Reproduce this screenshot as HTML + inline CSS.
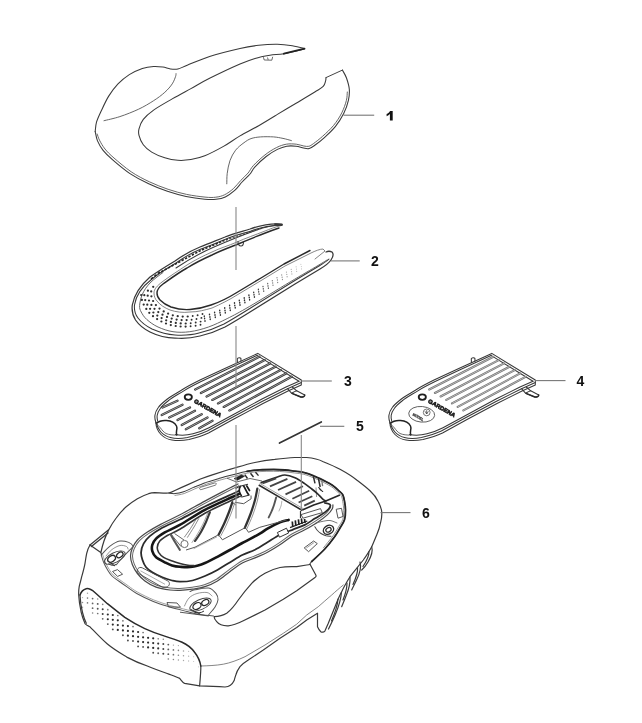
<!DOCTYPE html>
<html><head><meta charset="utf-8"><title>Parts diagram</title>
<style>
html,body{margin:0;padding:0;background:#fff;}
body{width:642px;height:723px;overflow:hidden;font-family:"Liberation Sans",sans-serif;}
svg{display:block;filter:grayscale(1);}
.ln path,.ln ellipse,.ln circle,.ln rect{fill:none;stroke:#383838;stroke-width:1.05;stroke-linecap:round;stroke-linejoin:round;}
.ln6 path{stroke:#3a3a3a;stroke-width:1.2;}
.ld path{fill:none;stroke:#777;stroke-width:1.1;}
.vl path{fill:none;stroke:#888;stroke-width:1.1;}
.lb text{font-family:"Liberation Sans",sans-serif;font-weight:bold;font-size:14px;fill:#111;text-anchor:middle;}
</style></head><body>
<svg width="642" height="723" viewBox="0 0 642 723">
<rect x="0" y="0" width="642" height="723" fill="#ffffff"/>
<g id="p1"><path d="M95.2,131.6 C95.4,130.0 95.5,125.6 96.5,122.2 C97.5,118.8 99.2,115.3 101.2,111.0 C103.2,106.7 105.9,100.6 108.7,96.1 C111.5,91.6 114.6,87.5 118.0,83.9 C121.4,80.3 125.3,77.2 129.3,74.6 C133.4,72.0 138.2,69.8 142.3,68.4 C146.4,67.1 150.2,66.7 153.6,66.5 C157.0,66.3 160.1,66.7 162.9,67.1 C165.7,67.5 167.9,68.7 170.4,69.0 C172.9,69.3 175.1,69.6 177.9,69.0 C180.7,68.4 181.9,67.3 187.2,65.2 C192.5,63.1 200.8,59.2 209.6,56.4 C218.4,53.6 231.8,50.4 240.0,48.5 C248.2,46.6 252.5,46.0 258.7,45.3 C264.9,44.6 271.8,44.2 277.4,44.3 C283.0,44.4 287.8,45.1 292.3,45.8 C296.8,46.5 302.5,48.0 304.5,48.5" fill="none" stroke="#3a3a3a" stroke-width="1.06" stroke-linecap="round" stroke-linejoin="round" /><path d="M304.5,49.0 C301.1,49.8 289.7,52.7 283.9,53.7 C278.1,54.7 274.7,54.4 269.9,55.2 C265.1,56.0 260.0,56.9 255.0,58.4 C250.0,59.9 247.6,60.7 240.0,64.0 C232.4,67.3 217.8,74.2 209.6,78.3 C201.4,82.4 197.1,85.2 190.9,88.6 C184.7,92.0 178.4,95.3 172.2,98.9 C166.0,102.5 158.4,106.7 153.6,110.1 C148.8,113.5 145.7,116.3 143.3,119.4 C140.9,122.5 139.7,126.2 139.0,128.8 C138.3,131.5 138.3,132.7 139.0,135.3 C139.7,138.0 141.2,141.9 143.3,144.7 C145.4,147.5 148.1,149.9 151.7,152.1 C155.3,154.3 160.4,156.4 164.8,157.8 C169.2,159.2 173.6,160.0 177.9,160.3 C182.2,160.6 186.4,160.3 190.9,159.6 C195.4,158.8 199.4,158.0 204.8,155.8 C210.2,153.6 217.6,149.7 223.5,146.4 C229.4,143.1 234.1,139.3 240.0,135.9 C245.9,132.5 252.5,129.3 258.7,125.7 C264.9,122.1 271.2,118.2 277.4,114.4 C283.6,110.7 289.9,106.9 296.1,103.2 C302.3,99.5 310.3,94.8 314.8,92.0 C319.3,89.2 321.4,88.3 323.2,86.4 C325.0,84.5 325.1,82.3 325.6,80.8 C326.1,79.3 325.9,78.1 326.0,77.6" fill="none" stroke="#3a3a3a" stroke-width="1.06" stroke-linecap="round" stroke-linejoin="round" /><path d="M326,77.6 L342.4,70.1" fill="none" stroke="#3a3a3a" stroke-width="0.95" stroke-linecap="round"/><path d="M342.4,70.1 C343.1,71.4 345.4,74.8 346.5,78.0 C347.6,81.2 349.0,85.5 349.3,89.2 C349.6,92.9 349.3,96.4 348.4,100.4 C347.5,104.5 345.9,109.1 343.7,113.5 C341.5,117.9 338.6,122.5 335.3,126.6 C332.0,130.7 327.5,134.7 324.1,137.8 C320.7,140.9 317.3,143.5 314.8,145.3 C312.3,147.1 311.1,148.0 309.2,148.5 C307.3,149.0 305.8,148.5 303.6,148.1 C301.4,147.7 298.9,146.5 296.1,146.2 C293.3,145.9 289.8,145.7 286.7,146.2 C283.6,146.7 280.8,147.7 277.4,149.4 C274.0,151.1 269.9,153.6 266.2,156.5 C262.5,159.4 257.8,163.8 255.0,166.8 C252.2,169.8 251.8,172.0 249.6,174.5 C247.4,177.0 244.6,179.3 242.1,182.0 C239.6,184.7 237.5,187.9 234.7,190.4 C231.9,192.9 228.4,195.4 225.3,196.9 C222.2,198.4 219.4,198.9 216.0,199.3 C212.6,199.7 209.8,199.7 204.8,199.2 C199.8,198.7 192.3,197.7 186.1,196.4 C179.9,195.1 173.6,193.4 167.4,191.3 C161.2,189.2 154.9,186.8 148.7,183.8 C142.5,180.9 136.1,177.6 130.0,173.6 C124.0,169.6 116.9,163.5 112.4,159.6 C107.9,155.7 105.6,153.4 103.1,150.3 C100.6,147.2 98.8,144.0 97.5,140.9 C96.2,137.8 95.6,133.2 95.2,131.6" fill="none" stroke="#3a3a3a" stroke-width="1.06" stroke-linecap="round" stroke-linejoin="round" /><path d="M347.3,92.0 C347.1,93.4 347.3,96.9 346.4,100.4 C345.5,103.9 343.9,108.6 341.8,112.8 C339.7,117.0 336.8,121.5 333.6,125.4 C330.4,129.3 326.0,133.2 322.7,136.2 C319.4,139.2 315.9,141.8 313.6,143.5 C311.3,145.2 310.4,145.9 308.8,146.3 C307.2,146.7 305.9,146.3 303.8,146.0 C301.7,145.7 299.2,144.5 296.3,144.2 C293.4,143.9 289.7,143.6 286.4,144.2 C283.1,144.8 280.2,145.7 276.6,147.5 C273.0,149.3 268.8,151.9 265.0,154.9 C261.2,157.9 256.4,162.3 253.6,165.3 C250.8,168.3 250.2,170.5 248.1,173.0 C245.9,175.5 243.2,177.9 240.7,180.5 C238.2,183.1 236.0,186.3 233.3,188.7 C230.6,191.1 227.4,193.4 224.5,194.8 C221.6,196.2 219.1,196.8 215.8,197.2 C212.6,197.6 209.9,197.6 205.0,197.1 C200.1,196.6 192.8,195.7 186.6,194.4 C180.4,193.1 174.3,191.4 168.1,189.3 C161.9,187.2 155.8,184.8 149.6,181.9 C143.4,179.0 137.1,175.8 131.2,171.8 C125.3,167.8 118.4,161.8 114.0,158.0 C109.6,154.2 107.4,152.0 105.0,149.0 C102.6,146.0 100.8,142.7 99.5,140.2 C98.2,137.7 97.6,135.0 97.2,134.0" fill="none" stroke="#555" stroke-width="0.90" stroke-linecap="round" stroke-linejoin="round" /><path d="M104.0,120.7 C106.7,120.0 114.1,118.5 119.9,116.6 C125.7,114.7 133.0,111.8 138.6,109.2 C144.2,106.6 149.2,103.5 153.6,100.7 C158.0,97.9 161.7,95.1 164.8,92.3 C167.9,89.5 170.4,86.6 172.2,83.9 C174.0,81.2 175.0,78.1 175.6,76.4 C176.2,74.7 175.9,74.1 176.0,73.6" fill="none" stroke="#555" stroke-width="0.90" stroke-linecap="round" stroke-linejoin="round" /><path d="M226.8,183.8 C226.9,182.1 226.7,177.5 227.2,173.6 C227.7,169.7 228.6,164.4 230.0,160.5 C231.4,156.6 233.3,153.2 235.6,150.2 C237.9,147.2 241.4,144.6 244.0,142.7 C246.6,140.8 248.2,139.6 251.0,138.6 C253.8,137.6 256.8,137.2 260.6,136.9 C264.4,136.6 269.9,136.7 273.6,136.9 C277.3,137.2 280.0,137.8 283.0,138.4 C286.0,139.0 290.0,140.2 291.4,140.6" fill="none" stroke="#555" stroke-width="0.90" stroke-linecap="round" stroke-linejoin="round" /><path d="M263.4,57.2 L264.2,60 L271.8,60.2 L272.7,56.8 M267.5,57.5 L268.2,59.8" fill="none" stroke="#444" stroke-width="0.8"/><path d="M283.9,53.7 L304.5,48.7" fill="none" stroke="#222" stroke-width="1.9" stroke-linecap="round"/></g>
<g id="p2" class="ln"><path style="stroke-width:1.25" d="M282,224 C270,223 258,226 250,229 C240,232 232,234 225,237 C215,241 208,244 200,247 C190,251 182,256 175,261 C165,267 157,272 150,277 C142,284 134.5,293 132.3,305 C131.5,311 133,316 135.5,320 C139,325 144,329 150,332 C158,336 166,338 175,338 C184,339 192,338 200,336 C209,334 217,331 225,327 C234,322 242,317 250,312 L295,284 L320,269 C325,266 329,263 331,260 C333,257 334,254 332,252 C330,251 328,251 326,252"/><path d="M281,225.5 C270,225 259,228 251,231 C241,234 233,236 226,239 C216,243 209,246 201,249 C191,253 183,258 176,263 C166,269 158,274 152,279 C143,286 136,294 134.5,305 C134,310 135,314 138,318 C141,322 146,326 152,329 C159,332 167,334.5 175,335 C184,335.5 192,335 199,333 C208,331 216,328 224,324 C233,319 241,314 249,309 L294,281 L319,266 C324,263 327,261 329,259"/><path style="stroke-width:.8;stroke:#666" d="M281.5,225.5 C275,227 270,229 265,231 C255,235 246,238 237,242 C228,246 220,248 212,252 C203,256 195,260 187,265 C178,271 170,276 162,282 C157,286 154,289 154,293 C154,296 155,299 157,301 C160,305 165,308 170,310 C176,312 183,313 190,312 C198,312 205,310 212,308 C221,304 229,300 237,295 L262,280 L285,266 L311,253 C315,251 320,249 323,249 L325,251 L315,259"/><path style="stroke-width:1.45;stroke:#2a2a2a" d="M279,228 C273,230 269,231.5 264,233.5 C254,237.5 246,240.5 237,244.5 C228,248 220,251 212,255 C203,259 195,263 187,268 C178,273 170,279 163,284 C159,287 157,290 157,293 C157,296 158,298 160,300 C163,303 167,305.5 171,307 C177,309 183,310 190,309.5 C198,309 204,307.5 211,305 C220,302 228,298 236,293 L261,278 L284,264 L310,250.5"/><path d="M282,224.5 C272,225 262,228 254,231 C240,236 228,241 214,247 C200,253 188,260 176,268"/><path d="M275,224.2 L282,225" style="stroke-width:1.8"/><path d="M238,241.5 C238,244 239,246 241,246 C243,246 243.5,244 243.5,242"/></g>
<path d="M163.0,272.5 C160.8,274.2 153.4,279.4 150.0,283.0 C146.6,286.6 144.2,290.2 142.5,294.0 C140.8,297.8 139.8,302.5 139.6,305.5 C139.4,308.5 140.0,309.7 141.2,312.0 C142.4,314.3 144.0,317.0 146.8,319.5 C149.6,322.0 153.6,325.0 158.0,327.0 C162.4,329.0 167.7,330.9 173.0,331.7 C178.3,332.5 183.9,332.5 189.8,331.7 C195.7,330.9 202.3,329.2 208.5,327.0 C214.7,324.8 220.3,322.0 227.2,318.6 C234.0,315.2 239.1,312.5 249.6,306.4 C260.1,300.3 278.6,288.8 290.0,282.0 C301.4,275.2 311.8,269.2 318.0,265.5 C324.2,261.8 325.5,260.9 327.0,260.0" fill="none" stroke="#555" stroke-width="0.90" stroke-linecap="round" stroke-linejoin="round" />
<g id="p2dots" fill="#2e2e2e"><circle cx="153.2" cy="286.8" r="1.12"/><circle cx="151.2" cy="291.4" r="1.12"/><circle cx="151.4" cy="296.3" r="1.12"/><circle cx="153.1" cy="301.0" r="1.12"/><circle cx="155.9" cy="305.1" r="1.12"/><circle cx="159.5" cy="308.6" r="1.12"/><circle cx="163.7" cy="311.4" r="1.12"/><circle cx="168.1" cy="313.6" r="1.12"/><circle cx="172.8" cy="315.3" r="1.12"/><circle cx="177.7" cy="316.2" r="1.12"/><circle cx="182.7" cy="316.6" r="1.12"/><circle cx="187.7" cy="316.5" r="1.12"/><circle cx="192.7" cy="316.0" r="0.95"/><circle cx="197.6" cy="315.2" r="0.95"/><circle cx="202.5" cy="314.0" r="0.95"/><circle cx="147.9" cy="290.7" r="1.12"/><circle cx="147.7" cy="295.7" r="1.12"/><circle cx="149.0" cy="300.5" r="1.12"/><circle cx="151.4" cy="304.9" r="1.12"/><circle cx="154.5" cy="308.8" r="1.12"/><circle cx="158.3" cy="312.1" r="1.12"/><circle cx="162.5" cy="314.7" r="1.12"/><circle cx="167.0" cy="316.9" r="1.12"/><circle cx="171.7" cy="318.6" r="1.12"/><circle cx="176.6" cy="319.6" r="1.12"/><circle cx="181.6" cy="320.1" r="1.12"/><circle cx="186.6" cy="320.1" r="1.12"/><circle cx="191.6" cy="319.7" r="0.95"/><circle cx="196.5" cy="319.0" r="0.95"/><circle cx="201.4" cy="317.9" r="0.95"/><circle cx="144.3" cy="295.2" r="1.12"/><circle cx="145.2" cy="300.1" r="1.12"/><circle cx="147.3" cy="304.7" r="1.12"/><circle cx="150.1" cy="308.8" r="1.12"/><circle cx="153.4" cy="312.5" r="1.12"/><circle cx="157.3" cy="315.6" r="1.12"/><circle cx="161.6" cy="318.1" r="1.12"/><circle cx="166.2" cy="320.3" r="1.12"/><circle cx="170.9" cy="321.9" r="1.12"/><circle cx="175.8" cy="322.9" r="1.12"/><circle cx="180.7" cy="323.4" r="1.12"/><circle cx="185.7" cy="323.5" r="1.12"/><circle cx="190.7" cy="323.2" r="0.95"/><circle cx="195.7" cy="322.5" r="0.95"/><circle cx="200.6" cy="321.6" r="0.95"/><circle cx="141.2" cy="295.0" r="1.12"/><circle cx="141.9" cy="299.9" r="1.12"/><circle cx="143.7" cy="304.6" r="1.12"/><circle cx="146.3" cy="308.9" r="1.12"/><circle cx="149.3" cy="312.8" r="1.12"/><circle cx="153.0" cy="316.2" r="1.12"/><circle cx="157.1" cy="319.1" r="1.12"/><circle cx="161.4" cy="321.5" r="1.12"/><circle cx="166.0" cy="323.5" r="1.12"/><circle cx="170.8" cy="325.1" r="1.12"/><circle cx="175.7" cy="326.0" r="1.12"/><circle cx="180.6" cy="326.5" r="1.12"/><circle cx="185.6" cy="326.6" r="1.12"/><circle cx="190.6" cy="326.3" r="0.95"/><circle cx="195.6" cy="325.7" r="0.95"/><circle cx="200.5" cy="324.8" r="0.95"/><ellipse cx="204.3" cy="316.3" rx="0.72" ry="0.98" opacity="1.00"/><ellipse cx="204.6" cy="318.6" rx="0.72" ry="0.98" opacity="1.00"/><ellipse cx="205.0" cy="320.9" rx="0.72" ry="0.98" opacity="1.00"/><ellipse cx="209.5" cy="314.6" rx="0.72" ry="0.98" opacity="1.00"/><ellipse cx="209.9" cy="316.9" rx="0.72" ry="0.98" opacity="1.00"/><ellipse cx="210.2" cy="319.2" rx="0.72" ry="0.98" opacity="1.00"/><ellipse cx="214.6" cy="312.6" rx="0.72" ry="0.98" opacity="1.00"/><ellipse cx="215.0" cy="314.9" rx="0.72" ry="0.98" opacity="1.00"/><ellipse cx="215.3" cy="317.2" rx="0.72" ry="0.98" opacity="1.00"/><ellipse cx="219.7" cy="310.4" rx="0.72" ry="0.98" opacity="1.00"/><ellipse cx="220.0" cy="312.7" rx="0.72" ry="0.98" opacity="1.00"/><ellipse cx="220.4" cy="315.0" rx="0.72" ry="0.98" opacity="1.00"/><ellipse cx="224.7" cy="308.1" rx="0.72" ry="0.98" opacity="1.00"/><ellipse cx="225.0" cy="310.4" rx="0.72" ry="0.98" opacity="1.00"/><ellipse cx="225.3" cy="312.7" rx="0.72" ry="0.98" opacity="1.00"/><ellipse cx="229.6" cy="305.6" rx="0.72" ry="0.98" opacity="1.00"/><ellipse cx="229.9" cy="307.9" rx="0.72" ry="0.98" opacity="1.00"/><ellipse cx="230.3" cy="310.2" rx="0.72" ry="0.98" opacity="1.00"/><ellipse cx="234.5" cy="303.1" rx="0.72" ry="0.98" opacity="1.00"/><ellipse cx="234.8" cy="305.4" rx="0.72" ry="0.98" opacity="1.00"/><ellipse cx="235.2" cy="307.7" rx="0.72" ry="0.98" opacity="1.00"/><ellipse cx="239.3" cy="300.5" rx="0.72" ry="0.98" opacity="1.00"/><ellipse cx="239.7" cy="302.8" rx="0.72" ry="0.98" opacity="1.00"/><ellipse cx="240.0" cy="305.1" rx="0.72" ry="0.98" opacity="1.00"/><ellipse cx="244.2" cy="297.9" rx="0.72" ry="0.98" opacity="1.00"/><ellipse cx="244.5" cy="300.2" rx="0.72" ry="0.98" opacity="1.00"/><ellipse cx="244.9" cy="302.5" rx="0.72" ry="0.98" opacity="1.00"/><ellipse cx="248.9" cy="295.2" rx="0.72" ry="0.98" opacity="1.00"/><ellipse cx="249.3" cy="297.5" rx="0.72" ry="0.98" opacity="1.00"/><ellipse cx="249.6" cy="299.8" rx="0.72" ry="0.98" opacity="1.00"/><ellipse cx="253.7" cy="292.4" rx="0.70" ry="0.95" opacity="0.95"/><ellipse cx="254.0" cy="294.7" rx="0.70" ry="0.95" opacity="0.95"/><ellipse cx="254.4" cy="297.0" rx="0.70" ry="0.95" opacity="0.95"/><ellipse cx="258.4" cy="289.5" rx="0.67" ry="0.91" opacity="0.89"/><ellipse cx="258.7" cy="291.8" rx="0.67" ry="0.91" opacity="0.89"/><ellipse cx="259.1" cy="294.1" rx="0.67" ry="0.91" opacity="0.89"/><ellipse cx="263.0" cy="286.5" rx="0.65" ry="0.87" opacity="0.83"/><ellipse cx="263.3" cy="288.8" rx="0.65" ry="0.87" opacity="0.83"/><ellipse cx="263.7" cy="291.1" rx="0.65" ry="0.87" opacity="0.83"/><ellipse cx="267.7" cy="283.6" rx="0.62" ry="0.84" opacity="0.77"/><ellipse cx="268.0" cy="285.9" rx="0.62" ry="0.84" opacity="0.77"/><ellipse cx="268.4" cy="288.2" rx="0.62" ry="0.84" opacity="0.77"/><ellipse cx="272.3" cy="280.7" rx="0.59" ry="0.80" opacity="0.72"/><ellipse cx="272.7" cy="283.0" rx="0.59" ry="0.80" opacity="0.72"/><ellipse cx="273.0" cy="285.3" rx="0.59" ry="0.80" opacity="0.72"/><ellipse cx="277.0" cy="277.8" rx="0.57" ry="0.77" opacity="0.66"/><ellipse cx="277.4" cy="280.1" rx="0.57" ry="0.77" opacity="0.66"/><ellipse cx="277.7" cy="282.4" rx="0.57" ry="0.77" opacity="0.66"/><ellipse cx="281.7" cy="275.0" rx="0.54" ry="0.73" opacity="0.60"/><ellipse cx="282.1" cy="277.3" rx="0.54" ry="0.73" opacity="0.60"/><ellipse cx="282.4" cy="279.6" rx="0.54" ry="0.73" opacity="0.60"/><ellipse cx="286.4" cy="272.1" rx="0.51" ry="0.69" opacity="0.54"/><ellipse cx="286.8" cy="274.4" rx="0.51" ry="0.69" opacity="0.54"/><ellipse cx="287.1" cy="276.7" rx="0.51" ry="0.69" opacity="0.54"/><ellipse cx="291.2" cy="269.4" rx="0.48" ry="0.66" opacity="0.48"/><ellipse cx="291.6" cy="271.7" rx="0.48" ry="0.66" opacity="0.48"/><ellipse cx="291.9" cy="274.0" rx="0.48" ry="0.66" opacity="0.48"/><ellipse cx="296.1" cy="266.8" rx="0.46" ry="0.62" opacity="0.42"/><ellipse cx="296.4" cy="269.1" rx="0.46" ry="0.62" opacity="0.42"/><ellipse cx="296.7" cy="271.4" rx="0.46" ry="0.62" opacity="0.42"/><ellipse cx="300.9" cy="264.3" rx="0.43" ry="0.58" opacity="0.36"/><ellipse cx="301.3" cy="266.6" rx="0.43" ry="0.58" opacity="0.36"/><ellipse cx="301.6" cy="268.9" rx="0.43" ry="0.58" opacity="0.36"/></g>
<g id="p2ticks" stroke="#222" stroke-width="1.6" fill="none" stroke-linecap="butt"><path d="M151.0,279.2 l2.1,-1.71" opacity="1.00"/><path d="M154.4,276.4 l2.1,-1.71" opacity="1.00"/><path d="M157.8,273.7 l2.1,-1.71" opacity="1.00"/><path d="M161.2,271.8 l2.1,-1.14" opacity="1.00"/><path d="M164.6,269.9 l2.1,-1.14" opacity="1.00"/><path d="M168.0,268.1 l2.1,-1.14" opacity="1.00"/><path d="M171.4,266.2 l2.1,-1.14" opacity="1.00"/><path d="M174.8,264.4 l2.1,-1.14" opacity="1.00"/><path d="M178.2,262.6 l2.1,-1.13" opacity="1.00"/><path d="M181.6,260.7 l2.1,-1.13" opacity="1.00"/><path d="M185.0,258.9 l2.1,-1.13" opacity="1.00"/><path d="M188.4,257.1 l2.1,-1.13" opacity="1.00"/><path d="M191.8,255.2 l2.1,-1.13" opacity="1.00"/><path d="M195.2,253.4 l2.1,-1.13" opacity="1.00"/><path d="M198.6,251.6 l2.1,-1.13" opacity="1.00"/><path d="M202.0,250.0 l2.1,-0.89" opacity="1.00"/><path d="M205.4,248.5 l2.1,-0.89" opacity="1.00"/><path d="M208.8,247.1 l2.1,-0.89" opacity="1.00"/><path d="M212.2,245.6 l2.1,-0.89" opacity="1.00"/><path d="M215.6,244.2 l2.1,-0.89" opacity="0.99"/><path d="M219.0,242.7 l2.1,-0.89" opacity="0.93"/><path d="M222.4,241.3 l2.1,-0.89" opacity="0.88"/><path d="M225.8,239.9 l2.1,-0.69" opacity="0.82"/><path d="M229.2,238.8 l2.1,-0.69" opacity="0.76"/><path d="M232.6,237.7 l2.1,-0.69" opacity="0.71"/><path d="M236.0,236.6 l2.1,-0.69" opacity="0.65"/><path d="M239.4,235.5 l2.1,-0.69" opacity="0.59"/><path d="M242.8,234.4 l2.1,-0.69" opacity="0.54"/><path d="M246.2,233.2 l2.1,-0.69" opacity="0.48"/><path d="M249.6,232.1 l2.1,-0.69" opacity="0.42"/><path d="M253.0,231.1 l2.1,-0.65" opacity="0.37"/><path d="M256.4,230.0 l2.1,-0.65" opacity="0.31"/><path d="M259.8,229.0 l2.1,-0.65" opacity="0.25"/></g>
<g transform="translate(0,0)"><g class="ln"><path d="M257.8,353.4 L224.8,368.4 L200,380 C194,383 188,386 183.3,389 C177,393 171,396 166.7,399.5 C163,402.5 160,405 158.3,407.5 C156.5,410 155.3,412.5 155,415 C154.6,417.5 155,420 155.8,422 C157,426 158.5,429 160.5,431.5 C163,434.5 166.5,436.5 170.5,437.5 C176,439 182,438.5 187.4,437.5 C194,436 201,434 207.3,431 L232,417.5 L262,401.5 L287,389 L301.3,382.6 L301.3,380 Z"/><path d="M155.8,422 C156,427 158,431.5 161,434.5 C164,437.5 168,439.5 172,440 C178,441 184,440.5 189,439.5 C195,438 202,436 208.5,433 L233,419.5 L263,403.5 L288,391 L301.3,385 L301.3,382.6"/><path d="M257,355.4 L225.5,370 L200.6,381.8 C194.5,384.8 189,387.6 184.2,390.6 C178,394.5 172,397.6 168,401 C164.5,403.8 162,406 160.3,408.5 C158.6,410.8 157.5,413 157.2,415.3 C156.9,417.5 157.2,419.5 157.8,421.3"/><path d="M257,355.4 L299,381.3"/><path d="M175.5,434.6 C181,435.6 187,435.4 193,433.8 C199,432.3 204,430.4 209,427.8 L233,414.8 L262,399 L286,387 L299,381.3"/><path d="M287.5,388.7 L291.7,393.3 L300.8,397 C303,397.5 305,396 304.7,395 L296.7,390.8 L292.3,387"/><path d="M291.7,393.3 C293,392.5 294.5,391.5 296.7,390.8"/><path d="M237.4,362.6 L237.3,358.8 C237.8,357.6 240.2,357.4 240.9,358.4 L241,361"/></g><path d="M292.5,393.6 L300.8,397 C303,397.5 305,396 304.7,395" fill="none" stroke="#2a2a2a" stroke-width="1.5" stroke-linecap="round"/><path d="M156.5,423.4 C158.5,421.5 162.5,420.3 166.5,420.6 C171,421 175,423.2 176.5,426 C177.3,427.6 177,429 176.6,430.5 C176.3,432 176.3,433.5 176.8,435" fill="none" stroke="#222" stroke-width="1.5" stroke-linecap="round"/><path d="M156.5,423.4 C157.5,425 159,426.5 160.5,428 C162,430 163.5,432 166,433.5 C169,434.8 173,435.2 176.8,435" fill="none" stroke="#444" stroke-width="0.8"/><path d="M195.2,389.5 L259.3,356.8" stroke="#303030" stroke-width="2.3" stroke-linecap="round" fill="none"/><path d="M195.2,389.5 L259.3,356.8" stroke="#fff" stroke-width="0.6" stroke-linecap="round" fill="none" opacity="0.85"/><path d="M200.9,393.0 L264.7,360.1" stroke="#303030" stroke-width="2.3" stroke-linecap="round" fill="none"/><path d="M200.9,393.0 L264.7,360.1" stroke="#fff" stroke-width="0.6" stroke-linecap="round" fill="none" opacity="0.85"/><path d="M206.6,396.5 L270.0,363.4" stroke="#303030" stroke-width="2.3" stroke-linecap="round" fill="none"/><path d="M206.6,396.5 L270.0,363.4" stroke="#fff" stroke-width="0.6" stroke-linecap="round" fill="none" opacity="0.85"/><path d="M212.3,399.9 L275.4,366.8" stroke="#303030" stroke-width="2.3" stroke-linecap="round" fill="none"/><path d="M212.3,399.9 L275.4,366.8" stroke="#fff" stroke-width="0.6" stroke-linecap="round" fill="none" opacity="0.85"/><path d="M218.0,403.4 L280.7,370.1" stroke="#303030" stroke-width="2.3" stroke-linecap="round" fill="none"/><path d="M218.0,403.4 L280.7,370.1" stroke="#fff" stroke-width="0.6" stroke-linecap="round" fill="none" opacity="0.85"/><path d="M223.7,406.9 L286.1,373.4" stroke="#303030" stroke-width="2.3" stroke-linecap="round" fill="none"/><path d="M223.7,406.9 L286.1,373.4" stroke="#fff" stroke-width="0.6" stroke-linecap="round" fill="none" opacity="0.85"/><path d="M229.4,410.4 L291.5,376.8" stroke="#303030" stroke-width="2.3" stroke-linecap="round" fill="none"/><path d="M229.4,410.4 L291.5,376.8" stroke="#fff" stroke-width="0.6" stroke-linecap="round" fill="none" opacity="0.85"/><path d="M162.5,407.5 L177.5,400.8" stroke="#303030" stroke-width="2.3" stroke-linecap="round" fill="none"/><path d="M162.5,407.5 L177.5,400.8" stroke="#fff" stroke-width="0.6" stroke-linecap="round" fill="none" opacity="0.85"/><path d="M161.7,415.0 L182.5,404.7" stroke="#303030" stroke-width="2.3" stroke-linecap="round" fill="none"/><path d="M161.7,415.0 L182.5,404.7" stroke="#fff" stroke-width="0.6" stroke-linecap="round" fill="none" opacity="0.85"/><path d="M169.2,417.5 L190.0,407.5" stroke="#303030" stroke-width="2.3" stroke-linecap="round" fill="none"/><path d="M169.2,417.5 L190.0,407.5" stroke="#fff" stroke-width="0.6" stroke-linecap="round" fill="none" opacity="0.85"/><path d="M177.5,420.0 L195.0,410.8" stroke="#303030" stroke-width="2.3" stroke-linecap="round" fill="none"/><path d="M177.5,420.0 L195.0,410.8" stroke="#fff" stroke-width="0.6" stroke-linecap="round" fill="none" opacity="0.85"/><path d="M181.7,425.0 L201.7,414.2" stroke="#303030" stroke-width="2.3" stroke-linecap="round" fill="none"/><path d="M181.7,425.0 L201.7,414.2" stroke="#fff" stroke-width="0.6" stroke-linecap="round" fill="none" opacity="0.85"/><path d="M185.8,429.2 L207.5,417.5" stroke="#303030" stroke-width="2.3" stroke-linecap="round" fill="none"/><path d="M185.8,429.2 L207.5,417.5" stroke="#fff" stroke-width="0.6" stroke-linecap="round" fill="none" opacity="0.85"/><path d="M199.2,428.3 L212.5,420.8" stroke="#303030" stroke-width="2.3" stroke-linecap="round" fill="none"/><path d="M199.2,428.3 L212.5,420.8" stroke="#fff" stroke-width="0.6" stroke-linecap="round" fill="none" opacity="0.85"/><ellipse cx="188.3" cy="397.1" rx="3.6" ry="2.7" fill="none" stroke="#1e1e1e" stroke-width="1.8"/><text transform="translate(193.6,402.2) rotate(30)" font-family="Liberation Sans, sans-serif" font-weight="bold" font-size="5.6" fill="#1e1e1e" stroke="#1e1e1e" stroke-width="0.6" textLength="30.5" lengthAdjust="spacingAndGlyphs">GARDENA</text></g>
<g transform="translate(234,0)"><g class="ln"><path d="M257.8,353.4 L224.8,368.4 L200,380 C194,383 188,386 183.3,389 C177,393 171,396 166.7,399.5 C163,402.5 160,405 158.3,407.5 C156.5,410 155.3,412.5 155,415 C154.6,417.5 155,420 155.8,422 C157,426 158.5,429 160.5,431.5 C163,434.5 166.5,436.5 170.5,437.5 C176,439 182,438.5 187.4,437.5 C194,436 201,434 207.3,431 L232,417.5 L262,401.5 L287,389 L301.3,382.6 L301.3,380 Z"/><path d="M155.8,422 C156,427 158,431.5 161,434.5 C164,437.5 168,439.5 172,440 C178,441 184,440.5 189,439.5 C195,438 202,436 208.5,433 L233,419.5 L263,403.5 L288,391 L301.3,385 L301.3,382.6"/><path d="M257,355.4 L225.5,370 L200.6,381.8 C194.5,384.8 189,387.6 184.2,390.6 C178,394.5 172,397.6 168,401 C164.5,403.8 162,406 160.3,408.5 C158.6,410.8 157.5,413 157.2,415.3 C156.9,417.5 157.2,419.5 157.8,421.3"/><path d="M257,355.4 L299,381.3"/><path d="M175.5,434.6 C181,435.6 187,435.4 193,433.8 C199,432.3 204,430.4 209,427.8 L233,414.8 L262,399 L286,387 L299,381.3"/><path d="M287.5,388.7 L291.7,393.3 L300.8,397 C303,397.5 305,396 304.7,395 L296.7,390.8 L292.3,387"/><path d="M291.7,393.3 C293,392.5 294.5,391.5 296.7,390.8"/><path d="M237.4,362.6 L237.3,358.8 C237.8,357.6 240.2,357.4 240.9,358.4 L241,361"/></g><path d="M292.5,393.6 L300.8,397 C303,397.5 305,396 304.7,395" fill="none" stroke="#2a2a2a" stroke-width="1.5" stroke-linecap="round"/><path d="M156.5,423.4 C158.5,421.5 162.5,420.3 166.5,420.6 C171,421 175,423.2 176.5,426 C177.3,427.6 177,429 176.6,430.5 C176.3,432 176.3,433.5 176.8,435" fill="none" stroke="#222" stroke-width="1.5" stroke-linecap="round"/><path d="M156.5,423.4 C157.5,425 159,426.5 160.5,428 C162,430 163.5,432 166,433.5 C169,434.8 173,435.2 176.8,435" fill="none" stroke="#444" stroke-width="0.8"/><path d="M195.2,389.5 L259.3,356.8" stroke="#6e6e6e" stroke-width="2.1" stroke-linecap="round" fill="none"/><path d="M195.2,389.5 L259.3,356.8" stroke="#fff" stroke-width="0.6" stroke-linecap="round" fill="none" opacity="0.85"/><path d="M200.9,393.0 L264.7,360.1" stroke="#6e6e6e" stroke-width="2.1" stroke-linecap="round" fill="none"/><path d="M200.9,393.0 L264.7,360.1" stroke="#fff" stroke-width="0.6" stroke-linecap="round" fill="none" opacity="0.85"/><path d="M206.6,396.5 L270.0,363.4" stroke="#6e6e6e" stroke-width="2.1" stroke-linecap="round" fill="none"/><path d="M206.6,396.5 L270.0,363.4" stroke="#fff" stroke-width="0.6" stroke-linecap="round" fill="none" opacity="0.85"/><path d="M212.3,399.9 L275.4,366.8" stroke="#6e6e6e" stroke-width="2.1" stroke-linecap="round" fill="none"/><path d="M212.3,399.9 L275.4,366.8" stroke="#fff" stroke-width="0.6" stroke-linecap="round" fill="none" opacity="0.85"/><path d="M218.0,403.4 L280.7,370.1" stroke="#6e6e6e" stroke-width="2.1" stroke-linecap="round" fill="none"/><path d="M218.0,403.4 L280.7,370.1" stroke="#fff" stroke-width="0.6" stroke-linecap="round" fill="none" opacity="0.85"/><path d="M223.7,406.9 L286.1,373.4" stroke="#6e6e6e" stroke-width="2.1" stroke-linecap="round" fill="none"/><path d="M223.7,406.9 L286.1,373.4" stroke="#fff" stroke-width="0.6" stroke-linecap="round" fill="none" opacity="0.85"/><path d="M229.4,410.4 L291.5,376.8" stroke="#6e6e6e" stroke-width="2.1" stroke-linecap="round" fill="none"/><path d="M229.4,410.4 L291.5,376.8" stroke="#fff" stroke-width="0.6" stroke-linecap="round" fill="none" opacity="0.85"/><ellipse cx="188.3" cy="397.1" rx="3.6" ry="2.7" fill="none" stroke="#1e1e1e" stroke-width="1.8"/><text transform="translate(193.6,402.2) rotate(30)" font-family="Liberation Sans, sans-serif" font-weight="bold" font-size="5.6" fill="#1e1e1e" stroke="#1e1e1e" stroke-width="0.6" textLength="30.5" lengthAdjust="spacingAndGlyphs">GARDENA</text><ellipse cx="187.7" cy="414.3" rx="13" ry="7.8" transform="rotate(5 187.7 414.3)" fill="none" stroke="#555" stroke-width="0.9"/><text transform="translate(178.3,415.2) rotate(30)" font-family="Liberation Sans, sans-serif" font-weight="bold" font-size="3.8" fill="#444" stroke="#444" stroke-width="0.3" textLength="12" lengthAdjust="spacingAndGlyphs">MODEL</text><circle cx="192.7" cy="412.4" r="3.4" fill="none" stroke="#555" stroke-width="0.8"/><path d="M191,411.3 L192.7,414 L194.4,411.3 M192.7,410.2 L192.7,414" fill="none" stroke="#444" stroke-width="0.8"/></g>
<path d="M321.3,422 L279.5,443" stroke="#333" stroke-width="1.7" stroke-linecap="round" fill="none"/>
<g id="p6" class="ln ln6"><path d="M101,552 C102.5,545 105,537 108.7,529.9 C111,525.5 113.5,521.5 116.2,518 C119.5,513.5 122.5,510 126.2,506.8 C130,503.5 133.5,501 137.4,498.7 C141,496.6 144.5,495 148.6,493.7 C151,493 153,492.7 154.7,492.6 C160,492.8 164,493.2 168.7,493 C171,492.5 173,491.5 174.9,490.5 C179,488.6 183,486.8 187.4,484.9 L199.8,479.3 C204,477.7 208,476.3 212.3,474.9 L229.8,469.3 L236.2,467.5 C242,465.8 248,464 254.9,462.5 C261,461.2 268,460.1 274.8,459.4 C281,458.6 288,457.8 294.8,457.5 L306.7,457.5 C313,458 319,459.5 323.3,461.7 C329,464 335,466.5 340,469.2 C346,472.5 352,476 356.7,480 C362,484 366,487 370,490.8 C373.5,494 376.5,498 378.3,501.7 C380,505 381.5,508.5 381.7,511.7 C382,515 381.6,518.5 380.8,521.7 C380,526 378.5,531 376.7,535 C375,539 373.5,543 371.7,546.7 C369.5,551 366.5,555.5 363.3,560 L350,576.7 C347,581.5 344,586.5 341.7,591.7 C339,596.5 337,601.5 335,606.7 L328.3,623.3 L325,630.8 C324,632.2 322,632.6 320.8,631.7 C319.5,630.5 318.3,628.5 317.5,626.7 L317.5,613.3"/><path d="M317.5,613.3 L306.7,620 L296.7,627.5 L280,638.3 L263.3,650 L248.3,660 C245,662 242,664.5 240,666.7 C238,669.5 236.5,672.5 235.8,675 C235,677.5 234.5,679 234.2,680.5 C232,685 229,686.8 225,687 L219.5,686.7 L199.6,685.9 L184.6,683.4 C182.5,682.5 181.5,680.5 179.7,678.4 C176,676.5 171,675 167.2,673.5 C160,671 153,668.5 147.3,666 C140,663.5 133,660.5 127.3,657.4 C121,653.5 114,649.5 107.4,644 C102,639.5 96,633 90,626.8 C89.5,626.6 89,626.4 88.7,626.1 C87,625.5 86,624.7 85,623.6 C83.5,620 82,616 81.2,612.4 C80,607 79,601 78.7,595 C78.6,592 78.7,589.5 79.2,586.7 C80,583 81,580 81.7,576.7 C83,572 84.3,567.5 85,563.3 C85.6,560 86,556.5 86.7,553.3 C87.5,550 88.5,547.5 90,545"/><path d="M90,545 L108.3,530"/><path d="M91.4,546.6 L108,533" style="stroke-width:1.3"/><path d="M90,545 L100.8,552.5 L101.7,555"/><path d="M343.3,585 C339,588.5 335,592 331.7,595 C327,599 322.5,603 318.3,606.7 L306.7,615 L296.7,624.2 L283.3,633.3 L265,645 L245,656.7 C238,660 230,663 223.3,664.2 C216,665.5 208,665.8 200.8,666" style="stroke:#666;stroke-width:.8"/><path d="M200.8,666 C201,670 200.5,676 199.6,685.9"/><path d="M80,595 C81,592 83,589.5 86.2,588.7 C89,588.2 92,590 94.9,592.5 L107.4,603.7 L124.8,617.4 C131,621.5 138,625.5 144.8,628.6 C151,631.5 158,634 164.7,636.1 C171,638 177,640 182.1,642.3 C187,644.5 191.5,648 194.6,652.3 C197.5,656 200,661 200.8,666" style="stroke-width:1.5;stroke:#2a2a2a"/><path d="M80,595 C80.3,601 81,607 82.5,612.5 C83.5,616.5 84.8,620.5 86.3,623.3"/><path d="M214.2,616.7 C219,616.5 223,615.5 226.7,613.3 C231,610 235,605 238.3,600 C242.5,594 247,588.5 251.7,583.3 C256,579 260,576 265,573.3 C270,570.5 275,568.5 280,567.5 C285,566.5 291,566.5 296.7,566.7 L306.7,565 C308.5,564.8 309.5,564.5 310,564.2 L315.8,575 C316.3,576 316,577 315,577.5 L296.7,590.8 L283.3,599.2 L265,610 L243.3,620.8 C238,623.5 233,625.5 228.3,625.8 C223,626 219,624.5 216.7,621.7 C215,620 214,618.5 214.2,616.7 Z"/><path d="M371.7,546.7 C373,551 371,557 368,562 C366,565.5 363.5,568.5 361.7,570"/><path d="M369,551.5 C369,556 366,562 363,566.5"/><path d="M360,562 C361.5,567 359.5,574 356.5,580 C354.5,584.5 352.5,588 351.7,590"/><path d="M357.5,567.5 C358,572 355.5,579 353,584.5"/><path d="M350,577 C350.5,583 348.5,590 346,596 C344.5,600 342.8,604 341.7,606.7"/><path d="M347,583 C347,589 345,595 343,600"/><path d="M341.5,592 C341,599 338.5,607 335.5,614 C333.5,619 330.5,625 328.5,629"/><path d="M338,599 C337.5,606 334.5,614 331.5,621"/></g>
<g id="deck"><path d="M168.7,493.0 C169.7,493.1 172.4,493.8 174.9,493.6 C177.4,493.4 180.5,492.8 183.6,491.8 C186.7,490.8 189.8,489.0 193.6,487.4 C197.3,485.8 201.9,483.8 206.1,482.4 C210.2,480.9 214.6,479.8 218.5,478.7 C222.4,477.6 225.1,476.8 229.8,475.6 C234.6,474.4 242.0,472.3 247.0,471.3 C252.0,470.3 255.4,470.1 259.8,469.8 C264.2,469.5 269.5,469.5 273.7,469.5 C277.9,469.5 281.4,469.7 285.0,470.0 C288.6,470.3 291.8,470.8 295.0,471.2 C298.2,471.6 301.2,471.8 304.3,472.6 C307.4,473.4 310.6,474.6 313.7,475.9 C316.8,477.1 319.9,478.6 323.0,480.1 C326.1,481.7 329.8,483.4 332.4,485.2 C335.0,487.0 337.2,489.2 338.9,490.8 C340.6,492.4 341.8,492.9 342.7,494.6 C343.6,496.3 344.0,498.5 344.5,501.1 C345.0,503.8 345.5,507.4 345.5,510.5 C345.5,513.6 345.4,516.9 344.5,519.8 C343.6,522.7 341.6,525.2 340.0,528.0 C338.4,530.8 337.3,533.0 334.8,536.5 C332.3,540.0 328.7,544.8 324.8,549.0 C320.9,553.2 314.2,558.9 311.7,561.5 C309.2,564.1 310.1,564.0 309.8,564.5" fill="none" stroke="#3a3a3a" stroke-width="1.01" stroke-linecap="round" stroke-linejoin="round" /><path d="M175.0,495.4 C176.6,495.1 181.0,494.6 184.2,493.5 C187.4,492.5 190.5,490.6 194.3,489.1 C198.0,487.5 202.6,485.5 206.7,484.1 C210.8,482.7 215.1,481.6 219.0,480.4 C222.9,479.3 225.5,478.6 230.3,477.3 C235.0,476.1 242.4,474.0 247.3,473.1 C252.3,472.1 255.5,471.9 259.9,471.6 C264.3,471.3 269.5,471.3 273.7,471.3 C277.8,471.3 281.3,471.5 284.9,471.8 C288.4,472.1 291.6,472.6 294.8,473.0 C297.9,473.4 300.8,473.6 303.9,474.3 C306.9,475.1 310.0,476.3 313.0,477.6 C316.1,478.8 319.1,480.2 322.2,481.7 C325.3,483.2 328.8,485.0 331.4,486.7 C334.0,488.4 336.1,490.7 337.7,492.1 C339.3,493.6 340.3,493.9 341.1,495.5 C342.0,497.0 342.3,498.9 342.7,501.4 C343.2,503.9 343.7,507.5 343.7,510.5 C343.7,513.5 343.7,516.5 342.8,519.3 C341.9,522.0 340.0,524.4 338.4,527.1 C336.9,529.8 335.8,532.0 333.3,535.4 C330.8,538.9 325.1,545.7 323.5,547.8" fill="none" stroke="#777" stroke-width="0.78" stroke-linecap="round" stroke-linejoin="round" /><path d="M247.0,471.3 C249.1,471.1 255.4,470.1 259.8,469.8 C264.2,469.5 269.5,469.5 273.7,469.5 C277.9,469.5 281.4,469.7 285.0,470.0 C288.6,470.3 291.8,470.8 295.0,471.2 C298.2,471.6 301.2,471.8 304.3,472.6 C307.4,473.4 310.6,474.6 313.7,475.9 C316.8,477.1 319.9,478.6 323.0,480.1 C326.1,481.7 329.8,483.4 332.4,485.2 C335.0,487.0 337.2,489.2 338.9,490.8 C340.6,492.4 341.8,492.9 342.7,494.6 C343.6,496.3 344.0,498.5 344.5,501.1 C345.0,503.8 345.5,507.4 345.5,510.5 C345.5,513.6 345.4,516.9 344.5,519.8 C343.6,522.7 341.6,525.2 340.0,528.0 C338.4,530.8 337.3,533.0 334.8,536.5 C332.3,540.0 328.7,544.8 324.8,549.0 C320.9,553.2 313.9,559.4 311.7,561.5" fill="none" stroke="#262626" stroke-width="1.79" stroke-linecap="round" stroke-linejoin="round" /><path d="M201.2,489.6 L215,485.3 C217,484.6 216.6,482.6 214.6,483 L200.8,487.2 C199,487.9 199.3,490 201.2,489.6 Z" fill="none" stroke="#555" stroke-width="0.8"/><path d="M238.0,484.0 C236.6,484.7 235.3,485.1 229.8,488.0 C224.3,490.9 213.2,496.6 204.9,501.1 C196.6,505.6 187.1,511.1 180.0,514.8 C172.9,518.5 167.7,520.6 162.3,523.5 C156.9,526.4 151.6,529.2 147.4,532.0 C143.2,534.8 139.9,537.3 137.4,540.0 C134.9,542.7 133.6,545.3 132.4,548.0 C131.2,550.7 130.5,553.3 130.5,556.1 C130.5,558.9 131.2,561.9 132.4,564.8 C133.6,567.7 135.3,570.8 137.4,573.5 C139.5,576.2 141.8,578.7 144.9,581.0 C148.0,583.3 151.9,585.7 156.1,587.2 C160.3,588.7 166.0,589.5 170.0,590.0 C174.0,590.5 176.2,590.5 180.0,590.4 C183.8,590.3 188.3,589.8 192.5,589.2 C196.7,588.6 200.8,588.1 205.0,586.7 C209.2,585.3 213.3,583.5 217.4,581.0 C221.5,578.5 225.7,574.7 229.8,571.7 C234.0,568.7 238.1,565.3 242.3,563.0 C246.5,560.7 250.8,559.7 255.0,557.9 C259.2,556.1 263.4,554.5 267.5,552.3 C271.6,550.1 275.8,547.5 279.9,544.8 C284.0,542.1 288.2,538.5 292.4,536.0 C296.5,533.5 300.6,532.1 304.8,529.8 C309.0,527.5 313.6,524.9 317.3,522.4 C321.1,519.9 324.8,517.2 327.3,514.9 C329.8,512.6 331.4,510.4 332.3,508.7 C333.2,507.0 332.8,505.5 332.9,504.9" fill="none" stroke="#4a4a4a" stroke-width="1.23" stroke-linecap="round" stroke-linejoin="round" /><path d="M238.9,485.8 C237.5,486.5 236.2,486.9 230.7,489.8 C225.2,492.6 214.1,498.4 205.8,502.9 C197.5,507.3 188.0,512.8 180.9,516.6 C173.8,520.3 168.6,522.4 163.2,525.3 C157.8,528.1 152.6,531.0 148.5,533.7 C144.4,536.4 141.2,538.8 138.9,541.4 C136.5,543.9 135.3,546.3 134.2,548.8 C133.2,551.2 132.5,553.6 132.5,556.1 C132.5,558.6 133.2,561.4 134.3,564.1 C135.3,566.8 137.0,569.7 139.0,572.3 C141.0,574.8 143.1,577.2 146.1,579.4 C149.0,581.6 152.7,583.9 156.8,585.3 C160.8,586.8 166.4,587.5 170.3,588.0 C174.1,588.5 176.3,588.5 179.9,588.4 C183.6,588.3 188.1,587.8 192.2,587.2 C196.3,586.6 200.3,586.1 204.4,584.8 C208.4,583.5 212.3,581.7 216.4,579.3 C220.4,576.8 224.5,573.1 228.6,570.1 C232.8,567.1 237.1,563.6 241.3,561.2 C245.6,558.9 250.0,557.8 254.2,556.1 C258.4,554.3 262.5,552.7 266.6,550.5 C270.7,548.4 274.7,545.8 278.8,543.1 C282.9,540.4 287.2,536.8 291.4,534.3 C295.5,531.8 299.7,530.3 303.8,528.0 C308.0,525.8 312.5,523.2 316.2,520.7 C319.9,518.3 323.5,515.6 326.0,513.4 C328.4,511.2 329.9,508.4 330.7,507.4" fill="none" stroke="#666" stroke-width="1.01" stroke-linecap="round" stroke-linejoin="round" /><path d="M239.0,490.8 C237.9,491.3 238.0,491.4 232.3,494.0 C226.6,496.6 213.6,502.2 204.9,506.5 C196.2,510.8 187.1,516.0 180.0,519.5 C172.9,523.0 167.3,525.0 162.3,527.8 C157.3,530.6 152.9,533.5 149.8,536.1 C146.7,538.7 145.1,540.9 143.6,543.6 C142.1,546.3 141.3,549.6 141.1,552.3 C140.9,555.0 141.6,557.3 142.4,559.8 C143.2,562.3 144.4,565.2 146.1,567.3 C147.8,569.4 149.6,570.6 152.3,572.3 C155.0,574.0 159.0,575.9 162.3,577.3 C165.6,578.7 169.1,579.8 172.0,580.5 C174.9,581.2 176.6,581.7 180.0,581.7 C183.4,581.7 188.3,581.5 192.5,580.5 C196.7,579.5 200.8,577.8 205.0,576.0 C209.2,574.2 213.3,572.3 217.4,570.0 C221.5,567.7 225.7,564.9 229.8,562.4 C234.0,559.9 238.1,557.1 242.3,555.0 C246.5,552.9 250.8,551.9 255.0,549.8 C259.2,547.7 263.4,544.8 267.5,542.3 C271.6,539.8 275.8,536.9 279.9,534.8 C284.0,532.7 288.2,531.4 292.4,529.8 C296.5,528.1 301.1,526.8 304.8,524.9 C308.5,523.0 311.5,520.7 314.8,518.6 C318.1,516.5 322.3,514.3 324.8,512.4 C327.3,510.5 329.0,508.8 329.8,507.4 C330.6,506.0 330.6,505.0 329.8,504.3 C329.0,503.6 325.6,503.2 324.8,503.0" fill="none" stroke="#2a2a2a" stroke-width="1.79" stroke-linecap="round" stroke-linejoin="round" /><path d="M239.5,493.6 C238.3,494.2 238.1,494.3 232.3,497.0 C226.5,499.7 213.7,505.2 204.9,509.8 C196.2,514.5 186.5,521.1 179.8,524.9 C173.1,528.7 168.8,530.1 164.8,532.4 C160.9,534.7 158.2,536.5 156.1,538.6 C154.0,540.7 152.9,542.8 152.3,544.9 C151.7,547.0 151.7,549.0 152.3,551.1 C152.9,553.2 154.0,555.4 156.1,557.3 C158.2,559.2 162.2,560.9 164.8,562.3 C167.5,563.7 169.5,564.8 172.0,565.5 C174.5,566.2 176.6,566.6 180.0,566.8 C183.4,567.0 188.3,567.4 192.5,566.8 C196.7,566.2 200.8,564.7 205.0,563.0 C209.2,561.3 213.3,559.0 217.4,556.8 C221.5,554.6 225.7,552.3 229.8,550.0 C234.0,547.7 237.3,545.7 242.3,543.0 C247.3,540.3 255.6,536.1 259.8,533.7 C264.0,531.3 264.1,530.5 267.5,528.6 C270.9,526.7 276.4,523.9 279.9,522.4 C283.4,520.9 287.2,520.3 288.6,519.9" fill="none" stroke="#161616" stroke-width="2.58" stroke-linecap="round" stroke-linejoin="round" /><path d="M239.0,496.8 C237.9,497.3 238.0,497.2 232.3,500.0 C226.6,502.8 213.7,508.4 204.9,513.3 C196.2,518.2 186.1,525.6 179.8,529.3 C173.5,533.0 170.6,533.5 167.3,535.5 C164.0,537.5 161.5,539.1 159.8,541.1 C158.1,543.1 157.5,545.5 157.3,547.4 C157.1,549.3 157.6,550.6 158.6,552.3 C159.6,553.9 161.3,555.8 163.6,557.3 C165.9,558.8 169.6,560.0 172.3,561.1 C175.0,562.2 177.4,562.9 180.0,563.6 C182.6,564.3 185.7,564.9 188.0,565.2 C190.3,565.5 193.0,565.5 194.0,565.6" fill="none" stroke="#333" stroke-width="1.57" stroke-linecap="round" stroke-linejoin="round" /><path d="M142.4,567.9 L167.9,581 C170.5,582.6 169.5,586.5 166.5,587 C164.5,587.5 163.5,587.6 162.3,587.2 L138.6,573.5 C136.5,572 137,568.5 139.5,567.6 C140.5,567.3 141.5,567.4 142.4,567.9 Z" fill="none" stroke="#444" stroke-width="0.9"/><path d="M140.5,570.8 L165,584.3" fill="none" stroke="#888" stroke-width="0.7"/><path d="M101.2,555.0 C101.6,556.2 102.5,559.5 103.5,562.0 C104.5,564.5 106.1,567.5 107.5,569.8 C108.9,572.1 110.1,574.1 112.0,576.0 C113.9,577.9 116.1,579.1 118.7,581.0 C121.3,582.9 124.4,585.1 127.4,587.2 C130.4,589.3 132.4,591.1 136.7,593.5 C141.0,595.9 147.8,599.2 153.3,601.5 C158.8,603.8 164.1,605.3 169.7,607.0 C175.3,608.7 181.9,610.2 187.0,611.5 C192.1,612.8 195.6,613.8 200.0,614.5 C204.4,615.2 211.3,615.8 213.6,616.0" fill="none" stroke="#555" stroke-width="1.01" stroke-linecap="round" stroke-linejoin="round" /><path d="M102.7,554.5 C103.1,555.6 103.9,559.0 105.0,561.4 C106.0,563.8 107.5,566.7 108.9,569.0 C110.2,571.2 111.3,573.1 113.1,574.9 C114.9,576.7 117.1,577.9 119.6,579.7 C122.2,581.5 125.3,583.8 128.3,585.9 C131.3,588.0 133.2,589.7 137.5,592.1 C141.7,594.5 148.5,597.8 153.9,600.0 C159.4,602.2 164.6,603.8 170.2,605.5 C175.7,607.1 182.4,608.7 187.4,609.9 C192.4,611.2 198.1,612.4 200.3,612.9" fill="none" stroke="#888" stroke-width="0.78" stroke-linecap="round" stroke-linejoin="round" /><path d="M102.5,553.6 C103.8,552.4 107.1,548.2 110.0,546.1 C112.9,544.0 116.8,541.7 119.9,541.1 C123.0,540.5 126.5,541.6 128.7,542.4 C130.9,543.2 132.6,545.1 133.0,546.1 C133.4,547.1 132.7,547.0 131.2,548.6 C129.7,550.2 126.5,553.3 124.0,556.0 C121.5,558.7 117.5,563.3 116.2,564.8" fill="none" stroke="#555" stroke-width="1.01" stroke-linecap="round" stroke-linejoin="round" /><path d="M106.0,556.0 C107.0,554.9 109.7,551.2 112.0,549.5 C114.3,547.8 117.6,546.0 120.0,545.5 C122.4,545.0 125.2,545.9 126.5,546.5 C127.8,547.1 127.8,548.6 128.0,549.0" fill="none" stroke="#777" stroke-width="0.78" stroke-linecap="round" stroke-linejoin="round" /><ellipse cx="114.8" cy="557.6" rx="11.3" ry="4.9" transform="rotate(-27 114.8 557.6)" fill="none" stroke="#444" stroke-width="0.9"/><ellipse cx="111.6" cy="558.8" rx="4.2" ry="2.9" transform="rotate(-35 111.6 558.8)" fill="none" stroke="#262626" stroke-width="1.3"/><ellipse cx="119.8" cy="554.9" rx="3.6" ry="2.4" transform="rotate(-35 119.8 554.9)" fill="none" stroke="#262626" stroke-width="1.2"/><path d="M107,560.5 L115,566 M108.5,563.5 C111,565.5 113.5,566 116,564.5" fill="none" stroke="#333" stroke-width="1"/><path d="M112.5,571.5 L117.5,569.6 L122.6,574.2 L117.6,576.4 Z" fill="none" stroke="#444" stroke-width="0.9"/><path d="M190.0,591.5 C190.8,591.2 191.9,590.4 195.0,589.8 C198.1,589.2 205.2,587.4 208.7,588.0 C212.2,588.6 214.5,591.6 216.1,593.6 C217.7,595.6 218.2,597.5 218.0,599.8 C217.8,602.1 216.5,604.8 214.9,607.3 C213.3,609.8 209.7,613.5 208.7,614.7" fill="none" stroke="#555" stroke-width="1.01" stroke-linecap="round" stroke-linejoin="round" /><path d="M184.5,606.0 C185.2,604.7 186.9,600.1 189.0,598.0 C191.1,595.9 194.0,594.4 197.0,593.5 C200.0,592.6 204.5,592.1 207.0,592.5 C209.5,592.9 211.2,595.4 212.0,596.0" fill="none" stroke="#777" stroke-width="0.78" stroke-linecap="round" stroke-linejoin="round" /><ellipse cx="200.5" cy="604.6" rx="11.5" ry="5" transform="rotate(-24 200.5 604.6)" fill="none" stroke="#444" stroke-width="0.9"/><ellipse cx="197" cy="606" rx="4.4" ry="3" transform="rotate(-30 197 606)" fill="none" stroke="#262626" stroke-width="1.3"/><ellipse cx="205.3" cy="602.5" rx="3.8" ry="2.6" transform="rotate(-30 205.3 602.5)" fill="none" stroke="#262626" stroke-width="1.2"/><path d="M191,609.5 L200,614 M193.5,611.8 C197,613.5 201,613.2 204,611" fill="none" stroke="#333" stroke-width="1"/><path d="M180,612.2 L208.7,616" fill="none" stroke="#444" stroke-width="0.9"/><path d="M167,602.5 L177,603 L180.5,607.2 L168.5,606.8 Z" fill="none" stroke="#444" stroke-width="0.9"/><ellipse cx="328.5" cy="529.8" rx="5.4" ry="4.2" transform="rotate(-30 328.5 529.8)" fill="none" stroke="#2a2a2a" stroke-width="1.4"/><ellipse cx="328.5" cy="529.8" rx="2.8" ry="2.1" transform="rotate(-30 328.5 529.8)" fill="none" stroke="#2a2a2a" stroke-width="1.2"/><path d="M314.8,526.7 C315.2,527.2 316.0,528.9 317.0,530.0 C318.0,531.1 319.5,532.5 321.0,533.5 C322.5,534.5 324.3,535.3 326.0,535.8 C327.7,536.2 330.2,536.1 331.0,536.2" fill="none" stroke="#444" stroke-width="1.01" stroke-linecap="round" stroke-linejoin="round" /><path d="M316.0,523.0 C317.0,522.8 319.7,521.9 322.0,521.5 C324.3,521.1 327.5,520.2 330.0,520.5 C332.5,520.8 335.8,522.6 337.0,523.0" fill="none" stroke="#666" stroke-width="0.90" stroke-linecap="round" stroke-linejoin="round" /><path d="M336.2,509.3 L341.5,508.3 L343,516.5 L338,518.2 Z" fill="none" stroke="#444" stroke-width="0.9"/><path d="M304.2,547.9 L313.6,541 L317.3,543.6 L308.6,551.7 Z" fill="none" stroke="#444" stroke-width="0.9"/><path d="M306.3,548 L314,542.6" fill="none" stroke="#777" stroke-width="0.7"/><path d="M258.7,485 L279.9,497.4 L302.4,510.5" fill="none" stroke="#2a2a2a" stroke-width="1.6"/><path d="M259.5,483.2 L303.5,508.8" fill="none" stroke="#777" stroke-width="0.7"/><path d="M302.4,510 L313.7,504.9 L325.8,501.1 L339.9,495" fill="none" stroke="#262626" stroke-width="1.6" stroke-linejoin="round"/><path d="M316,487.5 L316.6,497" fill="none" stroke="#777" stroke-width="0.8"/><path d="M318.6,487.2 L323,491.8 L320,489.8 Z" fill="#222" stroke="#222" stroke-width="0.8"/><path d="M261.2,482.6 C263.9,481.7 273.4,478.3 277.4,477.0 C281.3,475.7 282.0,474.9 284.9,475.0 C287.8,475.1 291.8,476.4 295.0,477.8 C298.2,479.2 301.5,481.5 304.3,483.4 C307.1,485.3 309.6,487.3 311.8,489.0 C314.0,490.7 315.6,492.0 317.4,493.6 C319.2,495.2 321.1,497.6 322.5,498.8 C323.9,500.1 325.2,500.7 325.8,501.1" fill="none" stroke="#2a2a2a" stroke-width="1.68" stroke-linecap="round" stroke-linejoin="round" /><path d="M262.5,483.4 L276.2,478.4" stroke="#444" stroke-width="1.8" stroke-linecap="butt" fill="none"/><path d="M270.0,486.3 L287.4,478.8" stroke="#444" stroke-width="1.8" stroke-linecap="butt" fill="none"/><path d="M278.0,490.0 L296.1,481.9" stroke="#444" stroke-width="1.8" stroke-linecap="butt" fill="none"/><path d="M285.5,494.4 L303.0,486.3" stroke="#444" stroke-width="1.8" stroke-linecap="butt" fill="none"/><path d="M292.4,498.8 L309.2,490.7" stroke="#444" stroke-width="1.8" stroke-linecap="butt" fill="none"/><path d="M298.6,502.5 L312.3,496.3" stroke="#444" stroke-width="1.8" stroke-linecap="butt" fill="none"/><path d="M304.2,505.6 L314.8,500.6" stroke="#444" stroke-width="1.8" stroke-linecap="butt" fill="none"/><path d="M313.3,476.2 L315,483.4 M318.5,478.9 L320.2,487" fill="none" stroke="#2e2e2e" stroke-width="1.5"/><path d="M321.8,480.4 L322.6,486.2" fill="none" stroke="#777" stroke-width="1.3"/><path d="M234,478.6 L241.5,475 L244.5,476.2 L237.5,480.2 Z" fill="#222" stroke="#222" stroke-width="0.7"/><path d="M244.8,474.6 L247.5,478.5 M250.5,473.2 L253.5,477 M255.5,472.3 L258.5,475.6" fill="none" stroke="#2a2a2a" stroke-width="1.4"/><path d="M227,478.2 L236.5,482 L250,478.5 L262,481" fill="none" stroke="#555" stroke-width="0.9"/><path d="M240.3,486.5 C238.5,489 239,493 241.3,495.5 M243.5,485.8 C245.5,488.5 246.5,492 248.6,494.6 M246.8,486 L249.5,490.5" fill="none" stroke="#1c1c1c" stroke-width="1.7" stroke-linecap="round"/><path d="M235.5,488.5 L240,486.3 L248,484.2 M236.5,495.8 L242,497 L249.5,495" fill="none" stroke="#333" stroke-width="1.1"/><path d="M235,502.3 L243.7,503.7 L251.1,498.8 L251,495.5" fill="none" stroke="#444" stroke-width="0.9"/><path d="M232,498 L232.5,503 L236,505" fill="none" stroke="#555" stroke-width="0.8"/><path d="M171.0,534.9 C171.7,536.1 173.5,539.5 175.0,542.0 C176.5,544.5 179.0,548.5 179.8,549.8" fill="none" stroke="#555" stroke-width="2.13" stroke-linecap="round" stroke-linejoin="round" /><path d="M209.9,512.3 C209.2,513.9 207.5,518.7 206.0,522.0 C204.5,525.3 202.8,528.8 201.0,532.0 C199.2,535.2 196.0,539.5 195.0,541.0" fill="none" stroke="#3a3a3a" stroke-width="2.13" stroke-linecap="round" stroke-linejoin="round" /><path d="M207.5,513.5 C206.8,515.2 204.7,520.6 203.0,524.0 C201.3,527.4 199.3,530.9 197.5,534.0 C195.7,537.1 192.9,541.1 192.0,542.5" fill="none" stroke="#888" stroke-width="0.78" stroke-linecap="round" stroke-linejoin="round" /><path d="M198.7,518.6 C197.9,520.0 195.9,523.9 194.0,527.0 C192.1,530.1 188.6,535.6 187.5,537.3" fill="none" stroke="#777" stroke-width="0.90" stroke-linecap="round" stroke-linejoin="round" /><path d="M195.5,520.2 C194.7,521.6 192.3,525.7 190.5,528.5 C188.7,531.3 185.5,535.6 184.5,537.0" fill="none" stroke="#777" stroke-width="0.90" stroke-linecap="round" stroke-linejoin="round" /><path d="M232.3,502.4 C231.8,504.0 230.4,508.4 229.0,512.0 C227.6,515.6 225.7,520.2 224.0,524.0 C222.3,527.8 219.5,533.0 218.6,534.8" fill="none" stroke="#333" stroke-width="2.24" stroke-linecap="round" stroke-linejoin="round" /><path d="M234.6,503.0 C234.1,504.7 232.7,509.3 231.3,513.0 C229.9,516.7 228.0,521.2 226.3,525.0 C224.6,528.8 221.9,533.8 221.0,535.5" fill="none" stroke="#888" stroke-width="0.90" stroke-linecap="round" stroke-linejoin="round" /><path d="M257.3,488.7 C256.9,490.6 256.1,495.8 255.0,500.0 C253.9,504.2 252.2,509.4 250.5,514.0 C248.8,518.6 245.8,525.6 244.8,527.9" fill="none" stroke="#333" stroke-width="2.24" stroke-linecap="round" stroke-linejoin="round" /><path d="M259.6,489.5 C259.2,491.4 258.4,496.8 257.3,501.0 C256.2,505.2 254.5,510.4 252.8,515.0 C251.1,519.6 248.0,526.2 247.0,528.5" fill="none" stroke="#888" stroke-width="0.90" stroke-linecap="round" stroke-linejoin="round" /><path d="M276.2,497.4 C275.8,498.7 274.8,502.6 274.0,505.0 C273.2,507.4 272.4,509.4 271.5,511.5 C270.6,513.6 269.2,516.4 268.7,517.4" fill="none" stroke="#555" stroke-width="1.90" stroke-linecap="round" stroke-linejoin="round" /><path d="M281.8,501.2 C281.7,502.0 281.5,504.4 281.0,506.0 C280.5,507.6 279.3,510.2 279.0,511.0" fill="none" stroke="#999" stroke-width="0.78" stroke-linecap="round" stroke-linejoin="round" /><path d="M186,550 L195,547.2 L217.4,535.4 L219.5,536 L222.4,539.8 L244.8,527.9 L246,528.5 L248.5,532.3 L259.8,527.3 L286.7,520" fill="none" stroke="#555" stroke-width="1.0" stroke-linejoin="round"/><path d="M193.7,548.7 L217,536.8" fill="none" stroke="#888" stroke-width="0.7"/><circle cx="184.5" cy="544" r="3.6" fill="none" stroke="#707070" stroke-width="1"/><path d="M171.7,535 L181,546.5 M174.5,533.5 L184,540" fill="none" stroke="#666" stroke-width="1"/><path d="M277.4,532.5 L286.5,528.2 L288.6,533 L279.5,537.2 Z" fill="#fff" stroke="#333" stroke-width="1"/><path d="M292.3,521.5 L292.8,527 M295.3,520.3 L295.9,526 M298.4,519.3 L299,525 M301.4,518.3 L302,524 M304.6,519 L305,523" fill="none" stroke="#1e1e1e" stroke-width="1.7"/><path d="M290,527.6 L307.3,521" fill="none" stroke="#222" stroke-width="1.2"/><path d="M301.1,514.6 L320.5,508.6 L322.3,512.6 L303,518.2 Z" fill="#fff" stroke="#444" stroke-width="0.9"/><path d="M300.5,511 L300.5,518" fill="none" stroke="#333" stroke-width="1.2"/></g>
<g id="meshdots" fill="#2b2b2b"><circle cx="82.5" cy="597.6" r="0.67" opacity="0.39"/><circle cx="82.5" cy="602.4" r="0.77" opacity="0.54"/><circle cx="82.5" cy="607.2" r="0.72" opacity="0.46"/><circle cx="87.5" cy="593.3" r="0.71" opacity="0.44"/><circle cx="87.5" cy="598.1" r="0.83" opacity="0.64"/><circle cx="87.5" cy="602.9" r="0.83" opacity="0.64"/><circle cx="92.6" cy="598.6" r="0.89" opacity="0.73"/><circle cx="92.6" cy="603.4" r="0.89" opacity="0.73"/><circle cx="92.6" cy="608.2" r="0.89" opacity="0.73"/><circle cx="92.6" cy="613.0" r="0.81" opacity="0.60"/><circle cx="97.7" cy="599.1" r="0.77" opacity="0.54"/><circle cx="97.7" cy="603.9" r="0.95" opacity="0.82"/><circle cx="97.7" cy="608.7" r="0.95" opacity="0.82"/><circle cx="97.7" cy="613.5" r="0.85" opacity="0.67"/><circle cx="102.7" cy="604.4" r="0.80" opacity="0.59"/><circle cx="102.7" cy="609.2" r="1.01" opacity="0.92"/><circle cx="102.7" cy="614.0" r="1.01" opacity="0.92"/><circle cx="102.7" cy="618.8" r="0.90" opacity="0.74"/><circle cx="107.8" cy="609.7" r="0.84" opacity="0.64"/><circle cx="107.8" cy="614.5" r="1.07" opacity="1.00"/><circle cx="107.8" cy="619.3" r="1.07" opacity="1.00"/><circle cx="107.8" cy="624.1" r="0.94" opacity="0.81"/><circle cx="112.8" cy="615.0" r="1.10" opacity="1.00"/><circle cx="112.8" cy="619.8" r="1.10" opacity="1.00"/><circle cx="112.8" cy="624.6" r="1.10" opacity="1.00"/><circle cx="112.8" cy="629.4" r="0.96" opacity="0.84"/><circle cx="117.8" cy="615.5" r="0.85" opacity="0.67"/><circle cx="117.8" cy="620.3" r="1.10" opacity="1.00"/><circle cx="117.8" cy="625.1" r="1.10" opacity="1.00"/><circle cx="117.8" cy="629.9" r="1.10" opacity="1.00"/><circle cx="122.9" cy="620.8" r="0.85" opacity="0.67"/><circle cx="122.9" cy="625.6" r="1.10" opacity="1.00"/><circle cx="122.9" cy="630.4" r="1.10" opacity="1.00"/><circle cx="122.9" cy="635.2" r="0.96" opacity="0.84"/><circle cx="127.9" cy="626.1" r="1.10" opacity="1.00"/><circle cx="127.9" cy="630.9" r="1.10" opacity="1.00"/><circle cx="127.9" cy="635.7" r="1.10" opacity="1.00"/><circle cx="127.9" cy="640.5" r="0.96" opacity="0.84"/><circle cx="133.0" cy="626.6" r="0.85" opacity="0.67"/><circle cx="133.0" cy="631.4" r="1.10" opacity="1.00"/><circle cx="133.0" cy="636.2" r="1.10" opacity="1.00"/><circle cx="133.0" cy="641.0" r="0.96" opacity="0.84"/><circle cx="138.1" cy="632.0" r="1.10" opacity="1.00"/><circle cx="138.1" cy="636.8" r="1.10" opacity="1.00"/><circle cx="138.1" cy="641.6" r="1.10" opacity="1.00"/><circle cx="138.1" cy="646.4" r="0.96" opacity="0.84"/><circle cx="143.1" cy="632.5" r="0.85" opacity="0.67"/><circle cx="143.1" cy="637.3" r="1.10" opacity="1.00"/><circle cx="143.1" cy="642.1" r="1.10" opacity="1.00"/><circle cx="143.1" cy="646.9" r="0.96" opacity="0.84"/><circle cx="148.1" cy="637.8" r="1.10" opacity="1.00"/><circle cx="148.1" cy="642.6" r="1.10" opacity="1.00"/><circle cx="148.1" cy="647.4" r="1.10" opacity="1.00"/><circle cx="153.2" cy="638.3" r="1.10" opacity="1.00"/><circle cx="153.2" cy="643.1" r="1.10" opacity="1.00"/><circle cx="153.2" cy="647.9" r="1.10" opacity="1.00"/><circle cx="153.2" cy="652.7" r="0.96" opacity="0.84"/><circle cx="158.2" cy="638.8" r="0.83" opacity="0.63"/><circle cx="158.2" cy="643.6" r="1.05" opacity="0.97"/><circle cx="158.2" cy="648.4" r="1.05" opacity="0.97"/><circle cx="158.2" cy="653.2" r="0.93" opacity="0.78"/><circle cx="163.3" cy="639.3" r="0.79" opacity="0.57"/><circle cx="163.3" cy="644.1" r="0.99" opacity="0.87"/><circle cx="163.3" cy="648.9" r="0.99" opacity="0.87"/><circle cx="163.3" cy="653.7" r="0.99" opacity="0.87"/><circle cx="168.3" cy="644.6" r="0.92" opacity="0.78"/><circle cx="168.3" cy="649.4" r="0.92" opacity="0.78"/><circle cx="168.3" cy="654.2" r="0.92" opacity="0.78"/><circle cx="168.3" cy="659.0" r="0.83" opacity="0.63"/><circle cx="173.4" cy="645.1" r="0.72" opacity="0.46"/><circle cx="173.4" cy="649.9" r="0.86" opacity="0.68"/><circle cx="173.4" cy="654.7" r="0.86" opacity="0.68"/><circle cx="173.4" cy="659.5" r="0.78" opacity="0.56"/><circle cx="178.4" cy="645.6" r="0.68" opacity="0.41"/><circle cx="178.4" cy="650.4" r="0.79" opacity="0.58"/><circle cx="178.4" cy="655.2" r="0.79" opacity="0.58"/><circle cx="178.4" cy="660.0" r="0.73" opacity="0.48"/><circle cx="183.5" cy="650.9" r="0.73" opacity="0.48"/><circle cx="183.5" cy="655.7" r="0.73" opacity="0.48"/><circle cx="183.5" cy="660.5" r="0.68" opacity="0.41"/><circle cx="188.6" cy="651.4" r="0.61" opacity="0.30"/><circle cx="188.6" cy="656.2" r="0.67" opacity="0.38"/><circle cx="188.6" cy="661.0" r="0.64" opacity="0.33"/><circle cx="193.6" cy="656.7" r="0.59" opacity="0.26"/><circle cx="193.6" cy="661.5" r="0.60" opacity="0.28"/><circle cx="198.6" cy="666.8" r="0.59" opacity="0.26"/></g>

<g class="ld">
<path d="M343.5,115.2 H374.2"/>
<path d="M331,260.9 H359.7"/>
<path d="M301.3,381 H331.8"/>
<path d="M535,380.6 H565.5"/>
<path d="M320,426.3 H344.3"/>
<path d="M380.5,512.6 H410.5"/>
</g>
<g class="vl">
<path d="M236,207 V270"/>
<path d="M236,326 V387"/>
<path d="M236,425 V518.5"/>
<path d="M301.3,435 V510"/>
</g>
<g class="lb">
<path d="M390,110.9 L392.7,110.9 L392.7,120.6 L389.9,120.6 L389.9,114.1 C389.1,115 388,115.7 386.6,116.2 L386.6,113.9 C388.2,113.2 389.4,112.2 390,110.9 Z" fill="#111"/>
<text x="374.9" y="265.9">2</text>
<text x="347.9" y="386.4">3</text>
<text x="580.4" y="385.9">4</text>
<text x="359.9" y="431.3">5</text>
<text x="425.8" y="517.8">6</text>
</g>

</svg>
</body></html>
